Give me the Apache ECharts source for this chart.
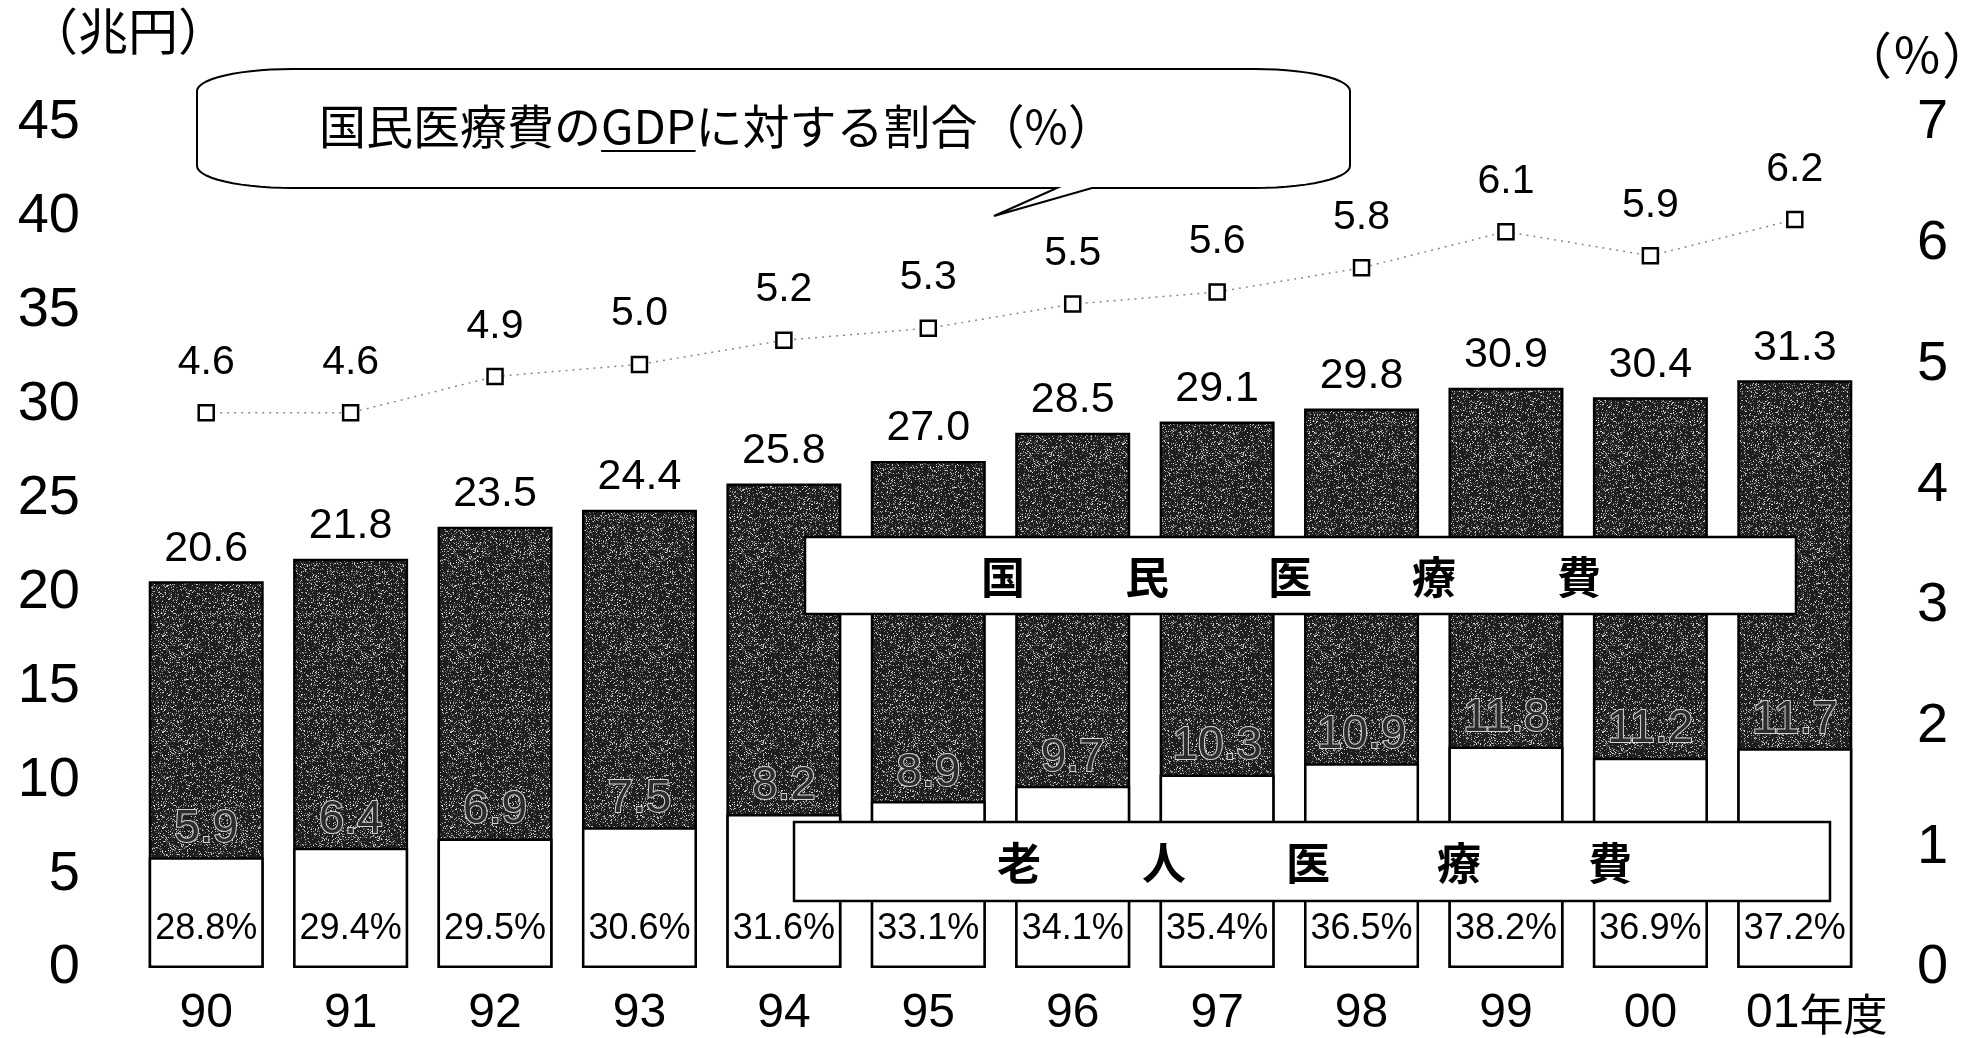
<!DOCTYPE html>
<html><head><meta charset="utf-8">
<script src="https://cdn.jsdelivr.net/npm/echarts@6/dist/echarts.min.js"></script>
<style>html,body{margin:0;padding:0;background:#fff}#c{width:1973px;height:1038px}</style>
</head><body><div id="c"></div><script>
// ---- data ----
const categories = ['90','91','92','93','94','95','96','97','98','99','00','01年度'];
const totalCost = [20.6,21.8,23.5,24.4,25.8,27.0,28.5,29.1,29.8,30.9,30.4,31.3];      // 国民医療費 (兆円)
const elderlyCost = [5.9,6.4,6.9,7.5,8.2,8.9,9.7,10.3,10.9,11.8,11.2,11.7];          // 老人医療費 (兆円)
const elderlyShare = [28.8,29.4,29.5,30.6,31.6,33.1,34.1,35.4,36.5,38.2,36.9,37.2];   // 老人医療費の割合 (%)
const gdpRatio = [4.6,4.6,4.9,5.0,5.2,5.3,5.5,5.6,5.8,6.1,5.9,6.2];                   // GDPに対する割合 (%)
const leftTicks = {min:0, max:45, interval:5};
const rightTicks = {min:0, max:7, interval:1};

const NUM = '"Liberation Sans", Arial, sans-serif';
const JP = '"Noto Sans CJK JP", sans-serif';

function makeNoise(base, lo, hi, thr){
  const n = 96, c = document.createElement('canvas'); c.width = c.height = n;
  const g = c.getContext('2d'); g.fillStyle = base; g.fillRect(0,0,n,n);
  for (let y=0;y<n;y++) for (let x=0;x<n;x++){
    const h = Math.abs(Math.sin(x*12.9898 + y*78.233) * 43758.5453) % 1;
    if (h > thr){ const v = Math.floor(lo + (h-thr)/(1-thr)*(hi-lo)); g.fillStyle = 'rgb('+v+','+v+','+v+')'; g.fillRect(x,y,1,1); }
  }
  return c;
}
const darkTex = makeNoise('#1e1e1e', 70, 230, 0.78);

function bubblePoints(L,T,R,B,rx,ry,tail){
  const pts = [], N = 14;
  const arc = (cx,cy,a0,a1)=>{ for(let i=0;i<=N;i++){const a=a0+(a1-a0)*i/N; pts.push([cx+rx*Math.cos(a), cy+ry*Math.sin(a)]);} };
  arc(L+rx, T+ry, Math.PI, 1.5*Math.PI);
  arc(R-rx, T+ry, 1.5*Math.PI, 2*Math.PI);
  arc(R-rx, B-ry, 0, 0.5*Math.PI);
  tail.forEach(p=>pts.push(p));
  arc(L+rx, B-ry, 0.5*Math.PI, Math.PI);
  return pts;
}

const chart = echarts.init(document.getElementById('c'), null, {renderer:'canvas'});

// measure title text for GDP underline
const titleText = '国民医療費のGDPに対する割合（%）';
const titleFont = 47, titleCx = 717, titleCy = 126;
const mc = document.createElement('canvas').getContext('2d');
mc.font = titleFont + 'px "Noto Sans CJK JP"';
const tw = mc.measureText(titleText).width;
const gx0 = titleCx - tw/2 + mc.measureText('国民医療費の').width;
const gx1 = gx0 + mc.measureText('GDP').width;

function boxChars(chars, xs, y){
  return chars.map((ch,i)=>({type:'text', z:110, style:{text:ch, x:xs[i], y:y, fill:'#000',
    font:'bold 44px "Noto Sans CJK JP"', textAlign:'center', textVerticalAlign:'middle', align:'center', verticalAlign:'middle'}}));
}

const option = {
  animation:false,
  backgroundColor:'#fff',
  grid:{left:134, right:106, top:123, bottom:65},
  xAxis:{type:'category', data:categories,
    axisLine:{show:false}, axisTick:{show:false},
    axisLabel:{interval:0, fontSize:48, fontFamily:NUM, color:'#000', margin:22,
      formatter:(v)=> v==='01年度' ? '{y|01}{j|年度}' : v,
      rich:{y:{fontSize:48, fontFamily:NUM, color:'#000', padding:[0,0,0,44]}, j:{fontSize:44, fontFamily:JP, color:'#000'}}}},
  yAxis:[
    {type:'value', min:leftTicks.min, max:leftTicks.max, interval:leftTicks.interval,
      axisLine:{show:false}, axisTick:{show:false}, splitLine:{show:false},
      axisLabel:{fontSize:56, fontFamily:NUM, color:'#000', margin:54, padding:[9,0,0,0]}},
    {type:'value', min:rightTicks.min, max:rightTicks.max, interval:rightTicks.interval,
      axisLine:{show:false}, axisTick:{show:false}, splitLine:{show:false},
      axisLabel:{fontSize:56, fontFamily:NUM, color:'#000', margin:50, padding:[9,0,0,0]}}
  ],
  series:[
    {name:'国民医療費', type:'bar', data:totalCost, barWidth:115, barGap:'-100%', z:2,
      itemStyle:{color:{image:darkTex, repeat:'repeat'}, borderColor:'#000', borderWidth:2.5},
      label:{show:true, position:'top', distance:11, fontSize:43, fontFamily:NUM, color:'#000',
        formatter:(p)=>p.value.toFixed(1)}},
    {name:'老人医療費', type:'bar', data:elderlyCost, barWidth:115, barGap:'-100%', z:3,
      itemStyle:{color:'#fff', borderColor:'#000', borderWidth:2.5},
      label:{show:true, position:'insideBottom', distance:21, fontSize:36, fontFamily:NUM, color:'#000',
        formatter:(p)=>elderlyShare[p.dataIndex].toFixed(1)+'%'}},
    {name:'老人医療費(値)', type:'bar', data:elderlyCost, barWidth:115, barGap:'-100%', z:4, silent:true,
      itemStyle:{color:'rgba(0,0,0,0)', borderWidth:0},
      label:{show:true, position:'top', distance:5, fontSize:46, fontFamily:NUM, color:'#2c2c2c',
        textBorderColor:'#d4d4d4', textBorderWidth:2, formatter:(p)=>p.value.toFixed(1)}},
    {name:'GDPに対する割合', type:'line', yAxisIndex:1, data:gdpRatio, z:5,
      symbol:'rect', symbolSize:15,
      lineStyle:{color:'#8a8a8a', width:1.5, type:[2,5]},
      itemStyle:{color:'#fff', borderColor:'#000', borderWidth:2.5},
      label:{show:true, position:'top', distance:21, fontSize:41, fontFamily:NUM, color:'#000',
        formatter:(p)=>p.value.toFixed(1)}}
  ],
  graphic:[
    {type:'text', z:100, style:{text:'（兆円）', x:28, y:31, fill:'#000', font:'50px "Noto Sans CJK JP"', textAlign:'left', textVerticalAlign:'middle', align:'left', verticalAlign:'middle'}},
    {type:'text', z:100, style:{text:'（％）', x:1842, y:55, fill:'#000', font:'50px "Noto Sans CJK JP"', textAlign:'left', textVerticalAlign:'middle', align:'left', verticalAlign:'middle'}},
    {type:'polygon', z:100, shape:{points:bubblePoints(197,69,1350,188,95,22,[[1092,188],[994,216],[1057,188]])},
      style:{fill:'#fff', stroke:'#000', lineWidth:2}},
    {type:'text', z:101, style:{text:titleText, x:titleCx, y:titleCy, fill:'#000', font:titleFont+'px "Noto Sans CJK JP"', textAlign:'center', textVerticalAlign:'middle', align:'center', verticalAlign:'middle'}},
    {type:'line', z:101, shape:{x1:gx0, y1:titleCy+25, x2:gx1, y2:titleCy+25}, style:{stroke:'#000', lineWidth:2}},
    {type:'rect', z:105, shape:{x:805, y:537, width:991, height:77}, style:{fill:'#fff', stroke:'#000', lineWidth:2.5}},
    ...boxChars(['国','民','医','療','費'], [1003,1147,1290,1434,1579], 577),
    {type:'rect', z:105, shape:{x:794, y:822, width:1036, height:79}, style:{fill:'#fff', stroke:'#000', lineWidth:2.5}},
    ...boxChars(['老','人','医','療','費'], [1019,1164,1308,1459,1610], 863)
  ]
};
chart.setOption(option);
</script></body></html>
